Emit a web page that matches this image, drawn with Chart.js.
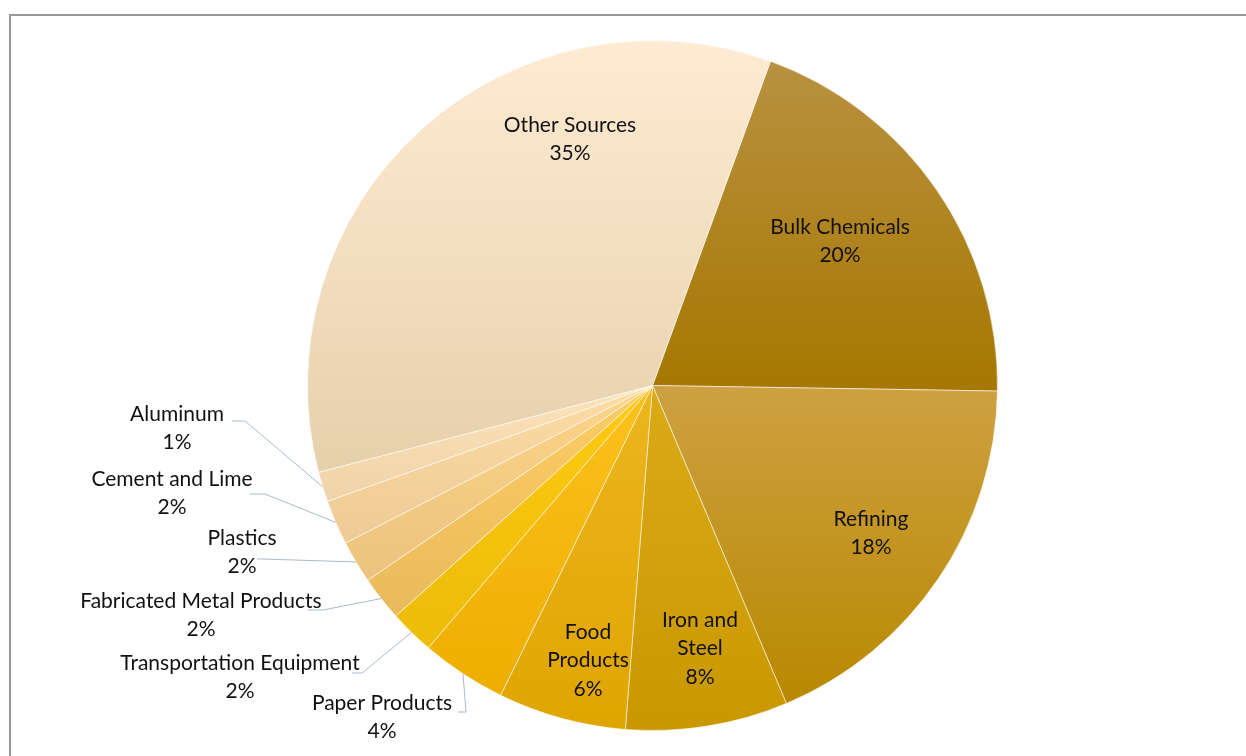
<!DOCTYPE html>
<html>
<head>
<meta charset="utf-8">
<script src="https://cdn.jsdelivr.net/npm/chart.js@4"></script>
<style>
    html, body { margin: 0; padding: 0; background: #fff; }
    #wrap { position: relative; width: 1246px; height: 756px; overflow: hidden; }
    #frame { position: absolute; left: 9px; top: 14px; width: 1300px; height: 800px;
             border-top: 2px solid #979797; border-left: 2px solid #979797; }
    #pie { position: absolute; left: 0; top: 0; }
</style>
</head>
<body>
<div id="wrap">
    <div id="frame"></div>
    <canvas id="pie" width="1246" height="756"></canvas>
</div>
<script>
// slices in clockwise order, starting 20 degrees past twelve o'clock
const categories = ['Bulk Chemicals', 'Refining', 'Iron and Steel', 'Food Products', 'Paper Products',
    'Transportation Equipment', 'Fabricated Metal Products', 'Plastics', 'Cement and Lime', 'Aluminum', 'Other Sources'];
const shares = [19.7, 18.4, 7.6, 6.0, 4.0, 2.1, 2.1, 2.0, 2.1, 1.4, 34.6];

// gradient fill per slice (top of slice -> bottom of slice)
const topColors = ['#b99140', '#cda142', '#dbaa18', '#eeb520', '#fbc11e', '#ffca14', '#fdcd64', '#fdd588', '#fddca4', '#fde3ba', '#ffebd3'];
const bottomColors = ['#a67700', '#b98800', '#c99800', '#dfa500', '#eeae00', '#ebbc08', '#e9ba5c', '#ecc27e', '#eeca95', '#efd3a8', '#e6d0ab'];

// where Excel put each data label (text centre) and, for outside ones, the leader elbow
const labelLayout = [
    { x: 840, y: 227, wrap: false },
    { x: 871, y: 519, wrap: false },
    { x: 700, y: 620, wrap: true },
    { x: 588, y: 632, wrap: true },
    { x: 382, y: 703, wrap: false, leader: [458, 466, 712] },
    { x: 240, y: 663, wrap: false, leader: [352, 362, 673] },
    { x: 201, y: 601, wrap: false, leader: [308, 323, 610] },
    { x: 242, y: 538, wrap: false, leader: [257, 262, 559] },
    { x: 172, y: 479, wrap: false, leader: [250, 265, 494] },
    { x: 177, y: 414, wrap: false, leader: [232, 245, 421] },
    { x: 570, y: 125, wrap: false }
];
const lineGap = 28.5;

function sliceFill(ctx) {
    const chart = ctx.chart;
    const i = ctx.dataIndex;
    const arc = chart.getDatasetMeta(0).data[i];
    if (!arc || arc.outerRadius === undefined || !isFinite(arc.startAngle)) return topColors[i];
    const r = arc.outerRadius;
    const ys = [arc.y, arc.y + r * Math.sin(arc.startAngle), arc.y + r * Math.sin(arc.endAngle)];
    for (let k = -4; k <= 4; k++) {
        const a = Math.PI / 2 + k * Math.PI;
        if (a > arc.startAngle && a < arc.endAngle) ys.push(arc.y + r * Math.sin(a));
    }
    const g = chart.ctx.createLinearGradient(0, Math.min(...ys), 0, Math.max(...ys));
    g.addColorStop(0, topColors[i]);
    g.addColorStop(1, bottomColors[i]);
    return g;
}

const sliceLabels = {
    id: 'sliceLabels',
    afterDatasetsDraw(chart) {
        const c = chart.ctx;
        const arcs = chart.getDatasetMeta(0).data;
        c.save();
        arcs.forEach((arc, i) => {
            const spot = labelLayout[i];
            if (spot.leader) {
                const mid = (arc.startAngle + arc.endAngle) / 2;
                const ex = arc.x + arc.outerRadius * Math.cos(mid);
                const ey = arc.y + arc.outerRadius * Math.sin(mid);
                c.beginPath();
                c.moveTo(spot.leader[0], spot.leader[2]);
                c.lineTo(spot.leader[1], spot.leader[2]);
                c.lineTo(ex, ey);
                c.strokeStyle = '#a9b9cd';
                c.lineWidth = 1;
                c.stroke();
            }
            let lines = [categories[i]];
            if (spot.wrap) {
                const cut = categories[i].lastIndexOf(' ');
                lines = [categories[i].slice(0, cut), categories[i].slice(cut + 1)];
            }
            lines.push(Math.round(shares[i]) + '%');
            c.fillStyle = '#111';
            c.font = '21px Lato';
            c.textAlign = 'center';
            c.textBaseline = 'middle';
            lines.forEach((t, k) => c.fillText(t, spot.x, spot.y + k * lineGap));
        });
        c.restore();
    }
};

const chart = new Chart(document.getElementById('pie'), {
    type: 'pie',
    data: {
        labels: categories,
        datasets: [{
            data: shares,
            backgroundColor: sliceFill,
            borderColor: 'rgba(255,255,255,0.55)',
            borderWidth: 1
        }]
    },
    options: {
        responsive: false,
        animation: false,
        rotation: 20,
        layout: { padding: { left: 307, right: 248, top: 40, bottom: 25 } },
        plugins: {
            legend: { display: false },
            tooltip: { enabled: false }
        }
    },
    plugins: [sliceLabels]
});
chart.update('none');
</script>
</body>
</html>
